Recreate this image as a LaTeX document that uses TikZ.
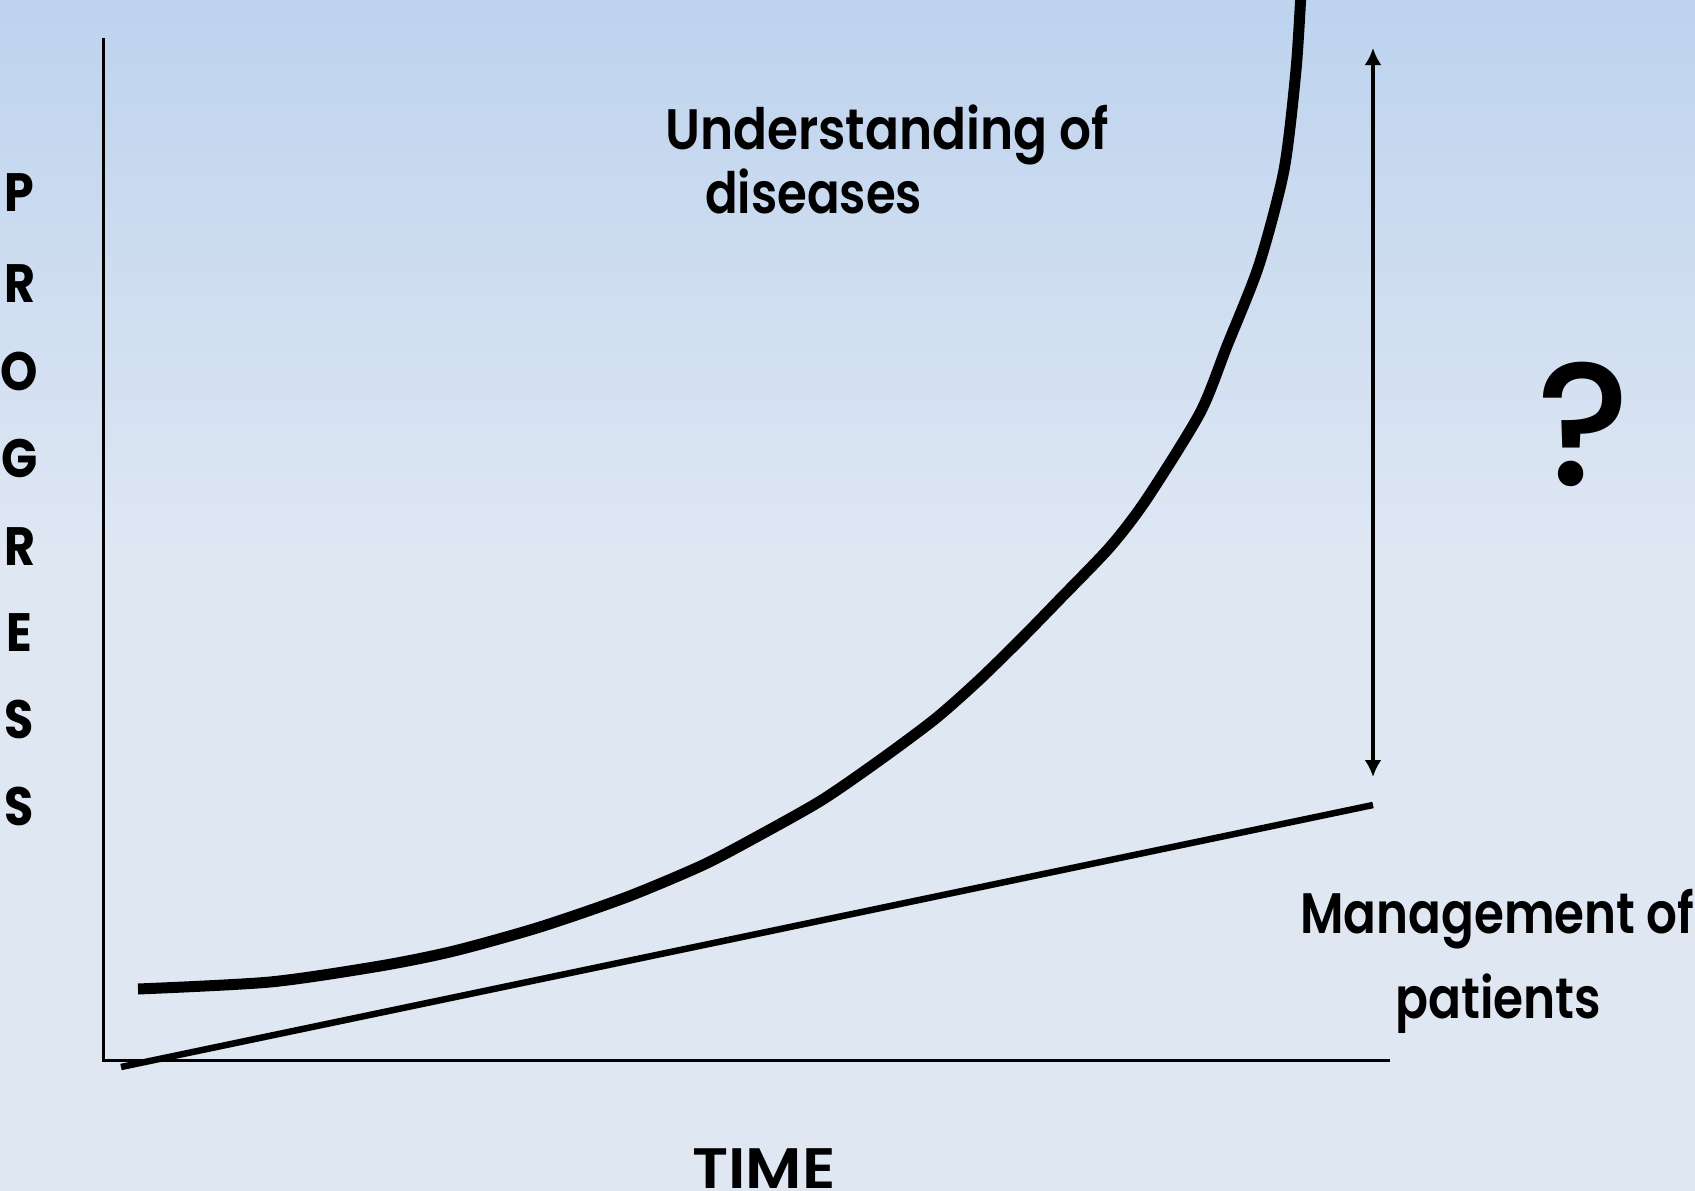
\documentclass[tikz,border=0pt]{standalone}
\usepackage{fontspec}
\usepackage{graphicx}
\setmainfont{Poppins}[UprightFont=* SemiBold, BoldFont=* Bold, FakeStretch=0.88]
\newfontfamily\qmfont{Poppins}[UprightFont=* Medium]
\usetikzlibrary{arrows.meta}
\definecolor{bgtop}{HTML}{BDD3EE}
\definecolor{bgbot}{HTML}{DFE7F3}
\tikzset{
  txt/.style={inner sep=0pt, anchor=base west, font=\fontsize{57}{68}\selectfont},
  vletter/.style={inner sep=0pt, anchor=base, font=\fontsize{54}{64}\selectfont\bfseries},
  axisline/.style={line width=3pt},
  mgmtline/.style={line width=6.5pt},
  undcurve/.style={line width=11pt},
  gaparrow/.style={line width=4.5pt, {Latex[length=17pt,width=17pt]}-{Latex[length=17pt,width=17pt]}},
}
\begin{document}
\begin{tikzpicture}[x=1pt,y=-1pt]
\useasboundingbox (0,0) rectangle (1695,1191);
\clip (0,0) rectangle (1695,1191);
\shade[top color=bgtop, bottom color=bgbot] (0,0) rectangle (1695,560);
\fill[bgbot] (0,559) rectangle (1695,1191);

% axes
\coordinate (ytop) at (103,38);
\coordinate (orig) at (103,1060);
\coordinate (xend) at (1390,1060);
\draw[axisline] (ytop) -- (orig) -- (xend);

% management line
\coordinate (m0) at (121,1067);
\coordinate (m1) at (1373,805);
\draw[mgmtline] (m0) -- (m1);

% understanding curve
\draw[undcurve] plot[smooth, tension=0.45] coordinates {
 (138,989) (270,982) (380,966) (454,951) (540,927) (627,897) (703,865)
 (760,835) (822,800) (880,760) (935,719) (978,681) (1020,640) (1059,600)
 (1110,547) (1146,500) (1200,413) (1227,346) (1259,265) (1284,170)
 (1296,70) (1301,-8)};

% double arrow
\coordinate (atop) at (1373,48);
\coordinate (abot) at (1373,777);
\draw[gaparrow] (atop) -- (abot);

% texts
\node[txt] (und) at (665,149) {Understanding of};
\node[txt] (dis) at (705,213) {\scalebox{0.96}[1]{diseases}};
\node[txt] (mgmt) at (1300,933) {\scalebox{0.965}[1]{Management of}};
\node[txt] (pat) at (1395,1018) {\scalebox{0.97}[1]{patients}};
\node[txt] (time) at (692,1188) {\scalebox{1.25}[1]{TIME}};
\node[inner sep=0pt, font=\fontsize{175}{200}\qmfont] (qm) at (1584,424) {?};

\node[vletter] (l1) at (19.5,211) {P};
\node[vletter] (l2) at (19.5,302) {R};
\node[vletter] (l3) at (19.5,390) {O};
\node[vletter] (l4) at (19.5,477) {G};
\node[vletter] (l5) at (19.5,565) {R};
\node[vletter] (l6) at (19.5,651) {E};
\node[vletter] (l7) at (19.5,738) {S};
\node[vletter] (l8) at (19.5,825) {S};
\end{tikzpicture}
\end{document}
